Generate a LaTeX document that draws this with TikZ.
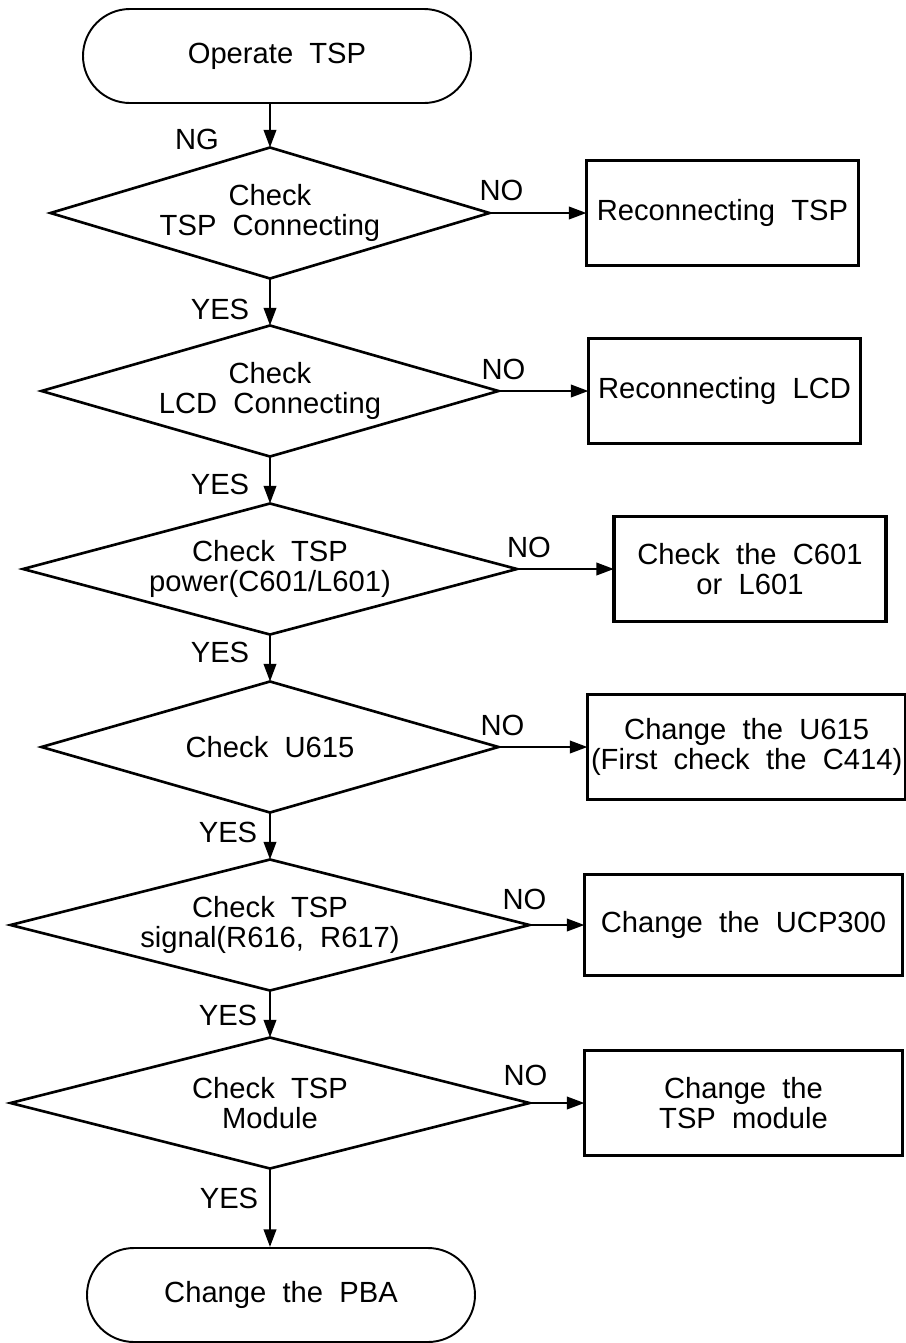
\documentclass[tikz,border=0pt]{standalone}
\usepackage{fontspec}
\setmainfont{Liberation Sans}[WordSpace=2]
\usetikzlibrary{shapes.geometric,positioning,arrows.meta}

\begin{document}
\begin{tikzpicture}[
        node distance=3.56cm,
        every node/.style={font=\fontsize{16.6}{17}\selectfont},
        term/.style={rectangle, draw, line width=1.1pt, rounded corners=0.94cm, minimum width=7.76cm, minimum height=1.88cm, align=center},
        check/.style={diamond, draw, line width=1.5pt, inner sep=0pt, outer sep=0pt, minimum height=2.62cm, align=center},
        action/.style={rectangle, draw, line width=2pt, inner xsep=2pt, outer sep=0pt, minimum width=5.44cm, minimum height=2.1cm, align=center},
        arrow/.style={-{Triangle[length=10pt,width=7pt]}, line width=1.5pt},
        tag/.style={inner sep=0pt}
    ]
        \useasboundingbox (0,0) rectangle (18.12,-26.86);

        % Start
        \node[term] (start) at (5.54,-1.12) {Operate TSP};

        % Checks
        \node[check, minimum width=8.78cm, shape aspect=3.35] (c1) at (5.40,-4.26) {Check\\TSP Connecting};
        \node[check, minimum width=9.14cm, shape aspect=3.49, below of=c1] (c2) {Check\\LCD Connecting};
        \node[check, minimum width=9.88cm, shape aspect=3.77, below of=c2] (c3) {Check TSP\\power(C601/L601)};
        \node[check, minimum width=9.14cm, shape aspect=3.49, below of=c3] (c4) {Check U615};
        \node[check, minimum width=10.38cm, shape aspect=3.96, below of=c4] (c5) {Check TSP\\signal(R616, R617)};
        \node[check, minimum width=10.38cm, shape aspect=3.96, below of=c5] (c6) {Check TSP\\Module};

        % Repairs
        \node[action, right=1.94cm of c1] (r1) {Reconnecting TSP};
        \node[action, right=1.80cm of c2] (r2) {Reconnecting LCD};
        \node[action, right=1.94cm of c3] (r3) {Check the C601\\or L601};
        \node[action, minimum width=6.36cm, right=1.78cm of c4] (r4) {Change the U615\\(First check the C414)};
        \node[action, minimum width=6.36cm, minimum height=2.02cm, right=1.10cm of c5] (r5) {Change the UCP300};
        \node[action, minimum width=6.36cm, right=1.10cm of c6] (r6) {Change the\\TSP module};

        % End
        \node[term] (finish) at (5.62,-25.90) {Change the PBA};

        % Arrows
        \draw[arrow] (start.south -| c1.north) -- (c1.north);
        \draw[arrow] (c1.south) -- (c2.north);
        \draw[arrow] (c2.south) -- (c3.north);
        \draw[arrow] (c3.south) -- (c4.north);
        \draw[arrow] (c4.south) -- (c5.north);
        \draw[arrow] (c5.south) -- (c6.north);
        \draw[arrow] (c6.south) -- (c6.south |- finish.north);
        \draw[arrow] (c1.east) -- (r1.west);
        \draw[arrow] (c2.east) -- (r2.west);
        \draw[arrow] (c3.east) -- (r3.west);
        \draw[arrow] (c4.east) -- (r4.west);
        \draw[arrow] (c5.east) -- (r5.west);
        \draw[arrow] (c6.east) -- (r6.west);

        % Labels
        \node[tag] (ng) at ([shift={(-1.46,0.16)}]c1.north) {NG};
        \node[tag] (no1) at ([shift={(0.24,0.46)}]c1.east) {NO};
        \node[tag] (no2) at ([shift={(0.10,0.44)}]c2.east) {NO};
        \node[tag] (no3) at ([shift={(0.24,0.44)}]c3.east) {NO};
        \node[tag] (no4) at ([shift={(0.08,0.44)}]c4.east) {NO};
        \node[tag] (no5) at ([shift={(-0.10,0.52)}]c5.east) {NO};
        \node[tag] (no6) at ([shift={(-0.08,0.56)}]c6.east) {NO};
        \node[tag] (yes1) at ([shift={(-1.00,-0.62)}]c1.south) {YES};
        \node[tag] (yes2) at ([shift={(-1.00,-0.56)}]c2.south) {YES};
        \node[tag] (yes3) at ([shift={(-1.00,-0.36)}]c3.south) {YES};
        \node[tag] (yes4) at ([shift={(-0.84,-0.40)}]c4.south) {YES};
        \node[tag] (yes5) at ([shift={(-0.84,-0.50)}]c5.south) {YES};
        \node[tag] (yes6) at ([shift={(-0.82,-0.60)}]c6.south) {YES};
\end{tikzpicture}
\end{document}
